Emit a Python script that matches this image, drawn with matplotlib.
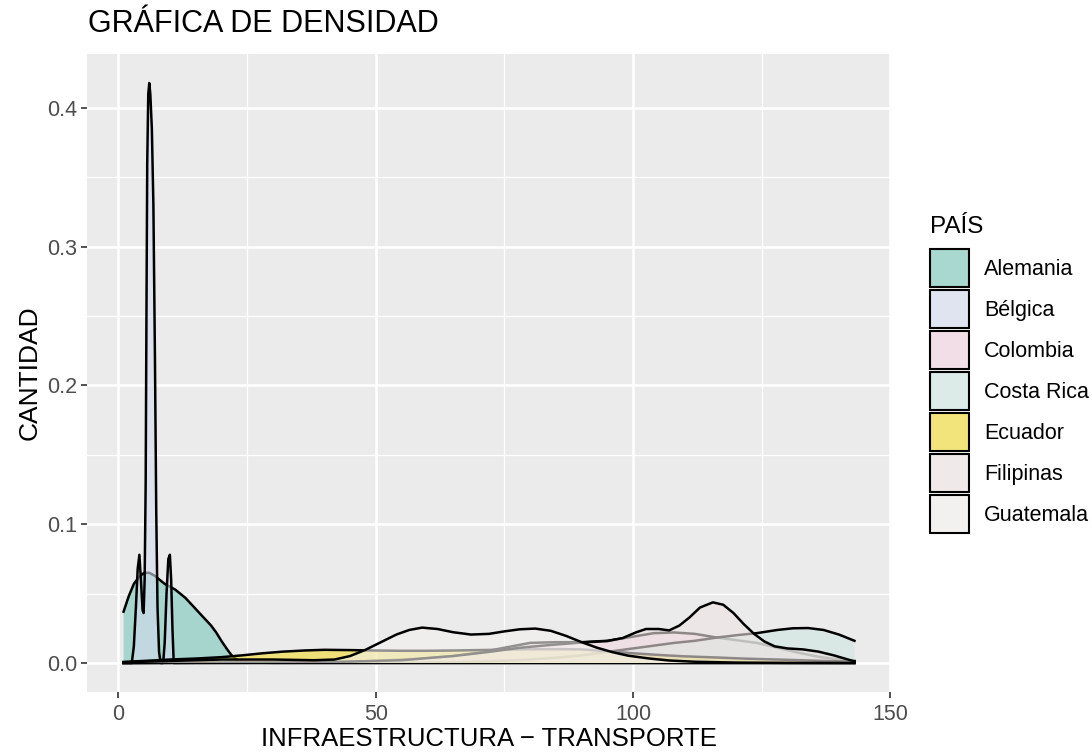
import matplotlib.pyplot as plt
from matplotlib.patches import Patch
from matplotlib.ticker import MultipleLocator, FormatStrFormatter
from matplotlib.colors import to_rgb

plt.rcParams['font.family'] = ['Liberation Sans', 'DejaVu Sans']

# curvas de densidad (x, densidad)
alemania_x = [1, 2, 3, 4, 5, 6, 7, 8, 9, 10, 11, 12, 13, 14, 15, 16, 17, 18, 19, 20, 21, 22, 23, 24, 26, 30, 143]
alemania_y = [0.037, 0.048, 0.057, 0.062, 0.065, 0.065, 0.063, 0.060, 0.057, 0.055, 0.053, 0.050, 0.047, 0.043,
              0.039, 0.035, 0.031, 0.027, 0.022, 0.016, 0.0105, 0.0055, 0.0025, 0.001, 0.0003, 0.0001, 0]

belgica_x = [1, 2.6, 3.0, 3.4, 3.75, 4.08, 4.4, 4.7, 4.9, 5.1, 5.3, 5.45, 5.6, 5.8, 6.0, 6.2, 6.5, 6.8, 7.1,
             7.35, 7.6, 7.9, 8.2, 8.7, 9.0, 9.35, 9.7, 10.0, 10.25, 10.5, 10.75, 143]
belgica_y = [0, 0, 0.012, 0.04, 0.068, 0.078, 0.058, 0.038, 0.036, 0.06, 0.13, 0.25, 0.36, 0.41, 0.418, 0.41,
             0.385, 0.33, 0.22, 0.11, 0.04, 0.008, 0, 0, 0.015, 0.05, 0.075, 0.078, 0.06, 0.025, 0, 0]

colombia_x = [1, 40, 50, 58, 65, 70, 75, 80, 85, 90, 95, 100, 104, 108, 112, 116, 120, 124, 128, 132, 136, 140, 143]
colombia_y = [0, 0.0005, 0.0015, 0.003, 0.005, 0.0075, 0.011, 0.0145, 0.015, 0.015, 0.016, 0.019, 0.0215, 0.022,
              0.021, 0.0185, 0.0165, 0.0145, 0.011, 0.0075, 0.0045, 0.0025, 0.0015]

costarica_x = [1, 60, 70, 78, 84, 90, 95, 100, 104, 108, 112, 116, 120, 124, 128, 131, 134, 137, 140, 143]
costarica_y = [0, 0.0003, 0.001, 0.002, 0.0035, 0.0055, 0.008, 0.0105, 0.0125, 0.0145, 0.016, 0.0182, 0.02,
               0.0215, 0.0238, 0.025, 0.0252, 0.0238, 0.0205, 0.016]

ecuador_x = [1, 5, 10, 15, 20, 24, 28, 32, 36, 40, 45, 50, 55, 60, 65, 70, 75, 80, 85, 90, 95, 100, 105, 110,
             116, 122, 129, 136, 143]
ecuador_y = [0.0008, 0.0015, 0.0025, 0.0032, 0.0042, 0.0055, 0.007, 0.0082, 0.009, 0.0095, 0.0093, 0.009, 0.0088,
             0.0088, 0.009, 0.0093, 0.0096, 0.0099, 0.01, 0.0098, 0.0085, 0.007, 0.0058, 0.0048, 0.004, 0.0031,
             0.0024, 0.0016, 0.0009]

filipinas_x = [1, 40, 55, 65, 72, 78, 84, 90, 95, 98, 100.5, 102.5, 105, 107, 109, 111, 113, 115.5, 117.5, 119.5,
               121.5, 123.5, 125.5, 127.5, 130, 133, 136, 139, 141, 143]
filipinas_y = [0, 0.0005, 0.002, 0.005, 0.008, 0.011, 0.013, 0.0148, 0.0158, 0.018, 0.022, 0.0245, 0.0245, 0.0235,
               0.027, 0.033, 0.040, 0.0437, 0.042, 0.036, 0.028, 0.021, 0.0155, 0.012, 0.0105, 0.0098, 0.0082,
               0.0055, 0.0033, 0.0012]

guatemala_x = [1, 10, 20, 30, 38, 42, 45, 48, 51, 54, 56.5, 59, 62, 65, 68.5, 72, 75, 78, 81, 84, 87, 90, 93, 96,
               99, 103, 107, 112, 120, 130, 143]
guatemala_y = [0.0005, 0.0015, 0.0025, 0.0025, 0.002, 0.0025, 0.005, 0.0095, 0.015, 0.0205, 0.0238, 0.0255,
               0.0245, 0.0222, 0.0205, 0.021, 0.0228, 0.0243, 0.0248, 0.0232, 0.0195, 0.015, 0.011, 0.0078,
               0.0053, 0.0033, 0.0018, 0.0009, 0.0003, 0.0001, 0]

paises = ['Alemania', 'Bélgica', 'Colombia', 'Costa Rica', 'Ecuador', 'Filipinas', 'Guatemala']
curvas = [(alemania_x, alemania_y), (belgica_x, belgica_y), (colombia_x, colombia_y),
          (costarica_x, costarica_y), (ecuador_x, ecuador_y), (filipinas_x, filipinas_y),
          (guatemala_x, guatemala_y)]
colores = ['#77C7B8', '#D4DBEF', '#F2D0DE', '#CDE6E1', '#F2DB2A', '#EDE3E3', '#F4F0EF']
alpha = 0.6

fig = plt.figure(figsize=(10.92, 7.53), dpi=100)
ax = fig.add_axes([87 / 1092, 1 - 692 / 753, (891 - 87) / 1092, (692 - 54) / 753])
ax.set_facecolor('#EBEBEB')

# cada grupo: relleno y luego su linea, en orden (como ggplot)
for i, ((xs, ys), col) in enumerate(zip(curvas, colores)):
    ax.fill_between(xs, 0, ys, facecolor=col, alpha=alpha, linewidth=0, zorder=2 + 2 * i)
    ax.plot(xs, ys, color='black', lw=1.8, zorder=3 + 2 * i, solid_joinstyle='round')

xmin = min(min(xs) for xs, _ in curvas)
xmax = max(max(xs) for xs, _ in curvas)
ymax = max(max(ys) for _, ys in curvas)
ax.set_xlim(xmin - 0.05 * (xmax - xmin), xmax + 0.05 * (xmax - xmin))
ax.set_ylim(-0.05 * ymax, 1.05 * ymax)

ax.xaxis.set_major_locator(MultipleLocator(50))
ax.xaxis.set_minor_locator(MultipleLocator(25))
ax.yaxis.set_major_locator(MultipleLocator(0.1))
ax.yaxis.set_minor_locator(MultipleLocator(0.05))
ax.yaxis.set_major_formatter(FormatStrFormatter('%.1f'))
ax.set_axisbelow(True)
ax.grid(which='major', color='white', lw=1.8)
ax.grid(which='minor', color='white', lw=0.9)
ax.tick_params(which='major', length=4, width=1.2, color='#333333', labelsize=15.5, labelcolor='#4D4D4D')
ax.tick_params(axis='x', which='major', pad=5)
ax.tick_params(axis='y', which='major', pad=3)
ax.tick_params(which='minor', length=0)
for s in ax.spines.values():
    s.set_visible(False)

ax.set_xlabel('INFRAESTRUCTURA − TRANSPORTE', fontsize=18.5, labelpad=1)
ax.set_ylabel('CANTIDAD', fontsize=19, labelpad=4)
fig.text(88 / 1092, 1 - 32 / 753, 'GRÁFICA DE DENSIDAD', fontsize=22, ha='left', va='baseline')

# leyenda
fig.text(930 / 1092, 1 - 233 / 753, 'PAÍS', fontsize=17.5, ha='left', va='baseline')
bg_key = 0.949
handles = []
for p, col in zip(paises, colores):
    rgb = to_rgb(col)
    key = tuple(alpha * c + (1 - alpha) * bg_key for c in rgb)
    handles.append(Patch(facecolor=key, edgecolor='black', linewidth=1.5, label=p))
leg = fig.legend(handles=handles, loc='upper left', bbox_to_anchor=(930 / 1092, 1 - 249 / 753),
                 frameon=False, fontsize=15.5, handlelength=1.81, handleheight=2.34,
                 labelspacing=0.14, handletextpad=0.7, borderpad=0, borderaxespad=0)

fig.savefig('out.png', dpi=100)
